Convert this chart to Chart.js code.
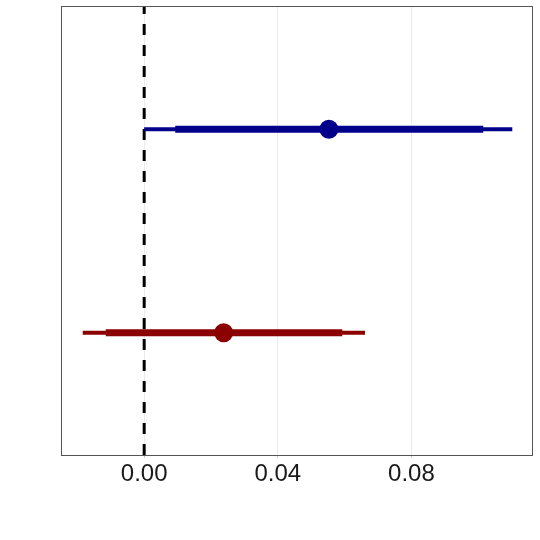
<!DOCTYPE html>
<html>
<head>
<meta charset="utf-8">
<script src="https://cdn.jsdelivr.net/npm/chart.js@4.4.1/dist/chart.umd.min.js"></script>
<style>
  html, body { margin: 0; padding: 0; background: #ffffff; }
  #wrap { width: 540px; height: 540px; }
</style>
</head>
<body>
<div id="wrap"><canvas id="c" width="540" height="540"></canvas></div>
<script>
// ---- data ----
const groups      = ['Group 1', 'Group 2'];   // bottom (red), top (blue)
const rowPos      = [1, 2];
const estimates   = [0.0238, 0.0553];
const outerLow    = [-0.0184, 0.0000];
const outerHigh   = [0.0661, 0.1102];
const innerLow    = [-0.0115, 0.0093];
const innerHigh   = [0.0593, 0.1015];
const groupColors = ['#8B0000', '#00008B'];
const xTicks      = [0.00, 0.04, 0.08];
const xRange      = [-0.0249, 0.1164];
const yRange      = [0.4, 2.6];

const datasets = [];
// dashed reference line at zero
datasets.push({
  type: 'line',
  data: [{x: 0, y: yRange[0]}, {x: 0, y: yRange[1]}],
  borderColor: '#000000',
  borderWidth: 3,
  borderDash: [11, 10],
  pointRadius: 0,
  order: 5
});
groups.forEach((g, i) => {
  datasets.push({
    type: 'line',
    label: g + ' outer',
    data: [{x: outerLow[i], y: rowPos[i]}, {x: outerHigh[i], y: rowPos[i]}],
    borderColor: groupColors[i],
    borderWidth: 4,
    pointRadius: 0,
    order: 4
  });
  datasets.push({
    type: 'line',
    label: g + ' inner',
    data: [{x: innerLow[i], y: rowPos[i]}, {x: innerHigh[i], y: rowPos[i]}],
    borderColor: groupColors[i],
    borderWidth: 7,
    pointRadius: 0,
    order: 3
  });
  datasets.push({
    type: 'scatter',
    label: g,
    data: [{x: estimates[i], y: rowPos[i]}],
    backgroundColor: groupColors[i],
    borderColor: groupColors[i],
    borderWidth: 0,
    pointRadius: 9.5,
    order: 1
  });
});

const framePlugin = {
  id: 'frame',
  afterDraw(chart) {
    const {ctx, chartArea: a} = chart;
    ctx.save();
    ctx.strokeStyle = '#555555';
    ctx.lineWidth = 1;
    ctx.strokeRect(a.left + 0.5, a.top - 0.5, a.right - a.left - 1, a.bottom - a.top + 1);
    ctx.restore();
  }
};

new Chart(document.getElementById('c'), {
  type: 'scatter',
  data: { datasets },
  plugins: [framePlugin],
  options: {
    responsive: false,
    animation: false,
    layout: { autoPadding: false, padding: { top: 7, right: 7, left: 0, bottom: 0 } },
    plugins: { legend: { display: false }, tooltip: { enabled: false } },
    scales: {
      x: {
        type: 'linear',
        min: xRange[0],
        max: xRange[1],
        afterBuildTicks(scale) { scale.ticks = xTicks.map(v => ({ value: v })); },
        afterFit(scale) { scale.height = 85; },
        border: { display: false },
        grid: {
          color: '#ebebeb',
          lineWidth: 1,
          drawTicks: true,
          tickLength: 3,
          tickColor: '#cccccc'
        },
        ticks: {
          color: '#1a1a1a',
          font: { family: "'Liberation Sans', Arial, sans-serif", size: 24 },
          padding: 2,
          maxRotation: 0,
          callback: v => Number(v).toFixed(2)
        }
      },
      y: {
        type: 'linear',
        min: yRange[0],
        max: yRange[1],
        afterFit(scale) { scale.width = 61; },
        border: { display: false },
        grid: { display: false },
        ticks: { display: false }
      }
    }
  }
});
</script>
</body>
</html>
